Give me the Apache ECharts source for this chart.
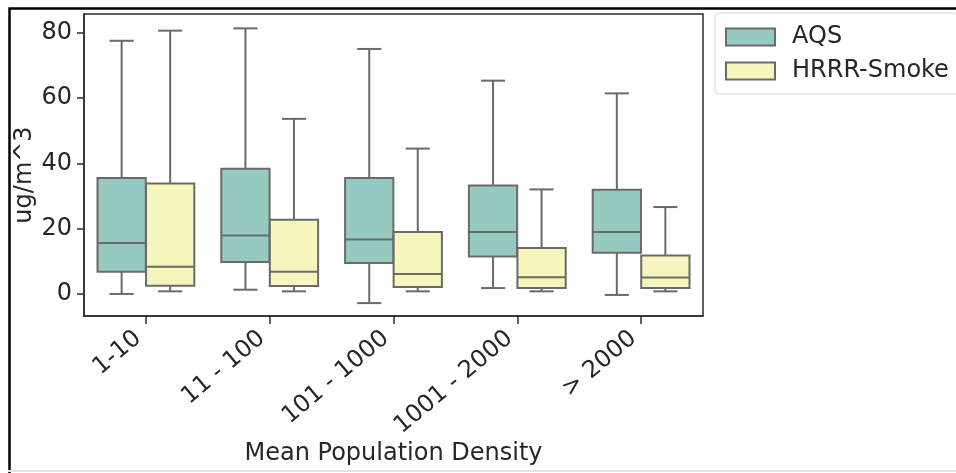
<!DOCTYPE html>
<html>
<head>
<meta charset="utf-8">
<script src="https://cdn.jsdelivr.net/npm/echarts@6/dist/echarts.min.js"></script>
<style>html,body{margin:0;padding:0;background:#fff;}#c{width:956px;height:473px;}</style>
</head>
<body>
<div id="c"></div>
<script>
// ---- data ----
const categories = ['1-10', '11 - 100', '101 - 1000', '1001 - 2000', '> 2000'];
// [lower whisker, Q1, median, Q3, upper whisker]
const aqsLow    = [0.0, 1.3, -2.8, 1.8, -0.3];
const aqsQ1     = [6.8, 9.8, 9.5, 11.5, 12.6];
const aqsMedian = [15.6, 17.9, 16.7, 19.0, 19.0];
const aqsQ3     = [35.5, 38.3, 35.5, 33.2, 31.9];
const aqsHigh   = [77.5, 81.3, 75.0, 65.3, 61.4];

const hrrrLow    = [0.8, 0.8, 0.8, 0.8, 0.8];
const hrrrQ1     = [2.5, 2.45, 2.1, 1.8, 1.8];
const hrrrMedian = [8.3, 6.8, 6.1, 5.1, 5.0];
const hrrrQ3     = [33.8, 22.7, 19.0, 14.1, 11.8];
const hrrrHigh   = [80.6, 53.6, 44.5, 32.0, 26.6];

const yTicks = [0, 20, 40, 60, 80];
const seriesNames = ['AQS', 'HRRR-Smoke'];

// ---- styling ----
const LINE = '#6a6a6a';
const AXIS = '#2b2b2b';
const TEXT = '#262626';
const FONT = '"DejaVu Sans", sans-serif';

function buildData(lo, q1, med, q3, hi) {
  return categories.map((c, i) => [c, lo[i], q1[i], med[i], q3[i], hi[i]]);
}

function makeRender(shift) {
  return function (params, api) {
    const idx = api.value(0);
    const band = api.size([1, 0])[0];
    const cx = api.coord([idx, 0])[0] + shift * band;
    const w = band * 0.39;
    const yy = (d) => api.coord([idx, api.value(d)])[1];
    const lo = yy(1), q1 = yy(2), med = yy(3), q3 = yy(4), hi = yy(5);
    const fill = api.visual('color');
    const ls = { stroke: LINE, lineWidth: 2 };
    return {
      type: 'group',
      children: [
        { type: 'line', shape: { x1: cx, y1: q3, x2: cx, y2: hi }, style: ls },
        { type: 'line', shape: { x1: cx, y1: q1, x2: cx, y2: lo }, style: ls },
        { type: 'line', shape: { x1: cx - w / 4, y1: hi, x2: cx + w / 4, y2: hi }, style: ls },
        { type: 'line', shape: { x1: cx - w / 4, y1: lo, x2: cx + w / 4, y2: lo }, style: ls },
        { type: 'rect', shape: { x: cx - w / 2, y: q3, width: w, height: q1 - q3 },
          style: { fill: fill, stroke: LINE, lineWidth: 2 } },
        { type: 'line', shape: { x1: cx - w / 2, y1: med, x2: cx + w / 2, y2: med }, style: ls }
      ]
    };
  };
}

const chart = echarts.init(document.getElementById('c'), null, { renderer: 'canvas' });
chart.setOption({
  animation: false,
  backgroundColor: '#ffffff',
  textStyle: { fontFamily: FONT },
  grid: { left: 84, top: 14, width: 619, height: 302, show: true, borderColor: AXIS, borderWidth: 1.5,
          backgroundColor: 'transparent', containLabel: false, outerBoundsMode: 'none' },
  legend: {
    orient: 'vertical',
    left: 715, top: 13,
    padding: [12, 10, 11, 10],
    itemWidth: 49, itemHeight: 17, itemGap: 10,
    icon: 'rect',
    borderColor: '#d8d8d8', borderWidth: 1, borderRadius: 4,
    textStyle: { fontSize: 24, color: TEXT, fontFamily: FONT, padding: [0, 0, 0, 12] },
    data: seriesNames
  },
  xAxis: {
    type: 'category',
    data: categories,
    boundaryGap: true,
    axisLine: { show: true, onZero: false, lineStyle: { color: AXIS, width: 1.5 } },
    axisTick: { show: true, alignWithLabel: true, length: 8, lineStyle: { color: AXIS, width: 1.5 } },
    axisLabel: { rotate: 40, fontSize: 24, color: TEXT, fontFamily: FONT, margin: 13, interval: 0, padding: [0, 10, 0, 0] },
    splitLine: { show: false },
    name: 'Mean Population Density',
    nameLocation: 'middle',
    nameGap: 126,
    nameMoveOverlap: false,
    nameTextStyle: { fontSize: 24, color: TEXT, fontFamily: FONT }
  },
  yAxis: {
    type: 'value',
    min: -6.75, max: 85.7,
    axisLine: { show: true, lineStyle: { color: AXIS, width: 1.5 } },
    axisTick: { show: true, length: 7, customValues: yTicks, lineStyle: { color: AXIS, width: 1.5 } },
    axisLabel: { fontSize: 24, color: TEXT, fontFamily: FONT, margin: 12, customValues: yTicks },
    splitLine: { show: false },
    name: 'ug/m^3',
    nameLocation: 'middle',
    nameGap: 47,
    nameRotate: 90,
    nameMoveOverlap: false,
    nameTextStyle: { fontSize: 24, color: TEXT, fontFamily: FONT, padding: [0, 20, 0, 0] }
  },
  series: [
    {
      name: seriesNames[0], type: 'custom',
      renderItem: makeRender(-0.196),
      itemStyle: { color: '#96cac1', borderColor: LINE, borderWidth: 1 },
      encode: { x: 0, y: [1, 2, 3, 4, 5] },
      data: buildData(aqsLow, aqsQ1, aqsMedian, aqsQ3, aqsHigh)
    },
    {
      name: seriesNames[1], type: 'custom',
      renderItem: makeRender(0.196),
      itemStyle: { color: '#f6f6bc', borderColor: LINE, borderWidth: 1 },
      encode: { x: 0, y: [1, 2, 3, 4, 5] },
      data: buildData(hrrrLow, hrrrQ1, hrrrMedian, hrrrQ3, hrrrHigh)
    }
  ],
  graphic: [
    { type: 'rect', left: 7, top: 6, shape: { width: 962, height: 476 }, style: { fill: 'none', stroke: '#000', lineWidth: 2.5 }, silent: true, z: 100 },
    { type: 'line', shape: { x1: 8, y1: 471, x2: 956, y2: 471 }, style: { stroke: '#e2e2e2', lineWidth: 2 }, silent: true, z: 100 }
  ]
});
</script>
</body>
</html>
